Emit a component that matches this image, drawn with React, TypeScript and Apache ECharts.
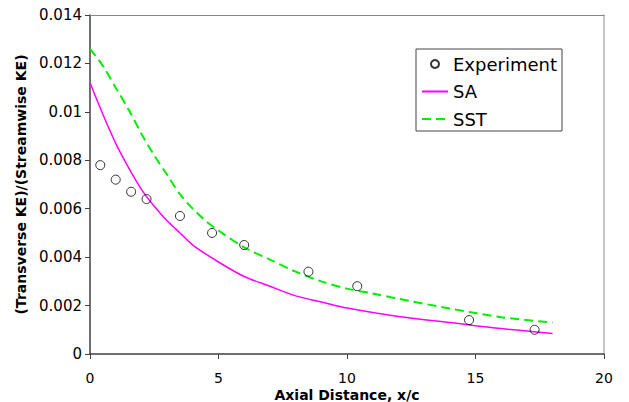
import React, { useEffect, useRef } from "react";
import * as echarts from "echarts";

const expX = [0.4, 1.0, 1.6, 2.2, 3.5, 4.75, 6.0, 8.5, 10.4, 14.75, 17.3];
const expY = [0.0078, 0.0072, 0.0067, 0.0064, 0.0057, 0.005, 0.0045, 0.0034, 0.0028, 0.0014, 0.001];

const saX = [0, 0.5, 1, 1.5, 2, 2.5, 3, 3.5, 4, 5, 6, 7, 8, 9, 10, 12, 14, 16, 18];
const saY = [0.0112, 0.0099, 0.0087, 0.0077, 0.0068, 0.0061, 0.0055, 0.005, 0.0045, 0.0038, 0.0032, 0.0028, 0.0024, 0.00215, 0.0019, 0.00155, 0.0013, 0.00105, 0.00085];

const sstX = [0, 0.5, 1, 1.5, 2, 2.5, 3, 3.5, 4, 4.5, 5, 6, 7, 8, 9, 10, 11, 12, 14, 16, 18];
const sstY = [0.0126, 0.0119, 0.011, 0.0101, 0.0091, 0.0082, 0.0074, 0.0066, 0.006, 0.0055, 0.0051, 0.0044, 0.0039, 0.0034, 0.003, 0.0027, 0.0025, 0.00228, 0.00188, 0.00152, 0.0013];

const xTicks = { min: 0, max: 20, interval: 5 };
const yTicks = { min: 0, max: 0.014, interval: 0.002 };

const FONT = "DejaVu Sans";

export default function App() {
  const ref = useRef<HTMLDivElement>(null);
  useEffect(() => {
    if (!ref.current) return;
    const chart = echarts.init(ref.current, undefined, { renderer: "svg" });
    chart.setOption({
      animation: false,
      backgroundColor: "#ffffff",
      textStyle: { fontFamily: FONT },
      grid: { left: 90, right: 25, top: 15, bottom: 48, containLabel: false, outerBoundsMode: "none" },
      legend: {
        left: 416,
        top: 49,
        orient: "vertical",
        padding: [6, 5, 3, 5],
        itemWidth: 26,
        itemHeight: 8,
        itemGap: 9.5,
        borderColor: "#444",
        borderWidth: 1,
        backgroundColor: "#fff",
        textStyle: { fontFamily: FONT, fontSize: 18, lineHeight: 18, color: "#000" },
        data: [
          { name: "Experiment" },
          { name: "SA", itemStyle: { opacity: 0 } },
          { name: "SST", itemStyle: { opacity: 0 } },
        ],
      },
      xAxis: [
        {
          type: "value",
          min: xTicks.min,
          max: xTicks.max,
          interval: xTicks.interval,
          name: "Axial Distance, x/c",
          nameLocation: "middle",
          nameGap: 34.5,
          nameMoveOverlap: false,
          nameTextStyle: { fontFamily: FONT, fontWeight: "bold", fontSize: 14, lineHeight: 12, color: "#000" },
          axisLine: { show: true, onZero: false, lineStyle: { color: "#404040", width: 1.5 } },
          axisTick: { show: true, inside: false, length: 5, lineStyle: { color: "#404040", width: 1 } },
          axisLabel: { margin: 17.5, fontFamily: FONT, fontSize: 14, lineHeight: 12, color: "#000" },
          splitLine: { show: false },
        },
        {
          type: "value",
          position: "top",
          min: xTicks.min,
          max: xTicks.max,
          interval: xTicks.interval,
          axisLine: { show: true, onZero: false, lineStyle: { color: "#888", width: 1 } },
          axisTick: { show: false },
          axisLabel: { show: false },
          splitLine: { show: false },
        },
      ],
      yAxis: [
        {
          type: "value",
          min: yTicks.min,
          max: yTicks.max,
          interval: yTicks.interval,
          name: "(Transverse KE)/(Streamwise KE)",
          nameLocation: "middle",
          nameRotate: 90,
          nameGap: 57,
          nameTextStyle: { fontFamily: FONT, fontWeight: "bold", fontSize: 14, color: "#000" },
          axisLine: { show: true, onZero: false, lineStyle: { color: "#404040", width: 1.5 } },
          axisTick: { show: true, inside: false, length: 5, lineStyle: { color: "#404040", width: 1 } },
          axisLabel: { margin: 8, fontFamily: FONT, fontSize: 15, color: "#000" },
          splitLine: { show: false },
        },
        {
          type: "value",
          position: "right",
          min: yTicks.min,
          max: yTicks.max,
          interval: yTicks.interval,
          axisLine: { show: true, onZero: false, lineStyle: { color: "#b5b5b5", width: 1.5 } },
          axisTick: { show: false },
          axisLabel: { show: false },
          splitLine: { show: false },
        },
      ],
      series: [
        {
          name: "SA",
          type: "line",
          data: saX.map((x, i) => [x, saY[i]]),
          smooth: 0.3,
          showSymbol: false,
          symbol: "none",
          lineStyle: { color: "#ff00ff", width: 1.5 },
          itemStyle: { color: "#ff00ff" },
          z: 2,
        },
        {
          name: "SST",
          type: "line",
          data: sstX.map((x, i) => [x, sstY[i]]),
          smooth: 0.3,
          showSymbol: false,
          symbol: "none",
          lineStyle: { color: "#00ee00", width: 2, type: [9, 5] },
          itemStyle: { color: "#00ee00" },
          z: 2,
        },
        {
          name: "Experiment",
          type: "scatter",
          data: expX.map((x, i) => [x, expY[i]]),
          symbol: "circle",
          symbolSize: 9,
          itemStyle: { color: "rgba(255,255,255,0)", borderColor: "#000", borderWidth: 1 },
          z: 3,
        },
      ],
    });
    return () => chart.dispose();
  }, []);
  return (
    <div
      ref={ref}
      style={{ position: "fixed", left: 0, top: 0, width: 629, height: 402 }}
    />
  );
}
